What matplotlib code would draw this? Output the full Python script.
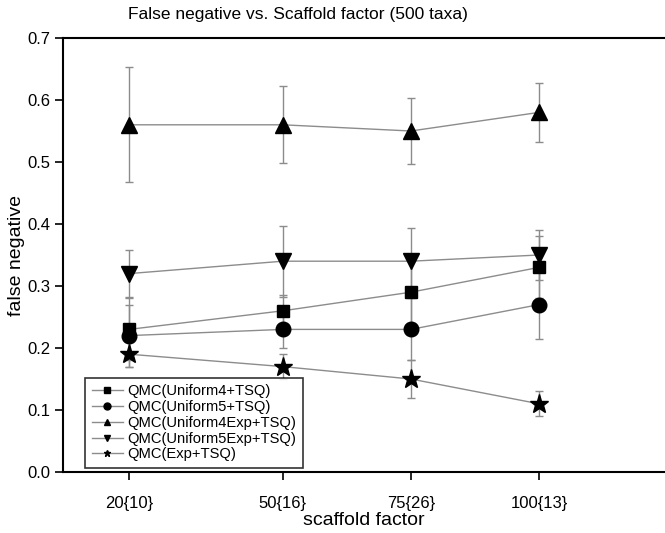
import numpy as np
import matplotlib.pyplot as plt

plt.rcParams["font.family"] = ["Liberation Sans", "DejaVu Sans"]

scaffold = [20, 50, 75, 100]
tick_labels = ["20{10}", "50{16}", "75{26}", "100{13}"]

uniform4 = [0.23, 0.26, 0.29, 0.33]
uniform4_err = [0.05, 0.025, 0.05, 0.05]
uniform5 = [0.22, 0.23, 0.23, 0.27]
uniform5_err = [0.05, 0.03, 0.05, 0.056]
uniform4exp = [0.56, 0.56, 0.55, 0.58]
uniform4exp_err = [0.093, 0.062, 0.054, 0.047]
uniform5exp = [0.32, 0.34, 0.34, 0.35]
uniform5exp_err = [0.038, 0.057, 0.053, 0.041]
exp = [0.19, 0.17, 0.15, 0.11]
exp_err = [0.02, 0.02, 0.03, 0.02]

series = [
    ("QMC(Uniform4+TSQ)", uniform4, uniform4_err, "s", 9),
    ("QMC(Uniform5+TSQ)", uniform5, uniform5_err, "o", 10.5),
    ("QMC(Uniform4Exp+TSQ)", uniform4exp, uniform4exp_err, "^", 11),
    ("QMC(Uniform5Exp+TSQ)", uniform5exp, uniform5exp_err, "v", 11),
    ("QMC(Exp+TSQ)", exp, exp_err, "*", 14),
]

fig = plt.figure(figsize=(6.65, 5.33), dpi=100)
ax = fig.add_axes([63 / 665, 1 - 472 / 533, 1 - 63 / 665, 434 / 533])

handles = []
for name, vals, err, mk, ms in series:
    ax.errorbar(scaffold, vals, yerr=err, fmt="none", ecolor="#8c8c8c",
                elinewidth=1, capsize=3, capthick=1, zorder=2)
    ax.plot(scaffold, vals, color="#8c8c8c", lw=1, zorder=2)
    ax.plot(scaffold, vals, ls="none", marker=mk, ms=ms, color="black", zorder=3)
    h, = ax.plot([], [], color="#8c8c8c", lw=1, marker=mk, ms=5,
                 mfc="black", mec="black", label=name)
    handles.append(h)

ax.set_xlim(7.1, 124.6)
ax.set_ylim(0, 0.7)
ax.set_xticks(scaffold)
ax.set_xticklabels(tick_labels)
ax.set_yticks(np.arange(0, 0.71, 0.1))
ax.set_yticklabels([f"{v:.1f}" for v in np.arange(0, 0.71, 0.1)])
ax.tick_params(labelsize=12, length=6, width=1.2)
ax.tick_params(axis="x", pad=11)
ax.tick_params(axis="y", pad=3)
ax.spines["right"].set_visible(False)
for s in ["left", "bottom", "top"]:
    ax.spines[s].set_linewidth(1.5)

ax.set_xlabel("scaffold factor", fontsize=14, labelpad=1)
ax.set_ylabel("false negative", fontsize=14, labelpad=2)
fig.text(0.448, 0.972, "False negative vs. Scaffold factor (500 taxa)",
         fontsize=12.5, ha="center", va="center")

leg = ax.legend(handles=handles, loc="lower left", bbox_to_anchor=(0.0365, 0.009),
                fontsize=10.6, frameon=True, fancybox=False, handlelength=2.1,
                handletextpad=0.35, borderpad=0.45, labelspacing=0.12,
                edgecolor="black", borderaxespad=0)
leg.get_frame().set_linewidth(1.2)

fig.savefig("out.png", dpi=100)
